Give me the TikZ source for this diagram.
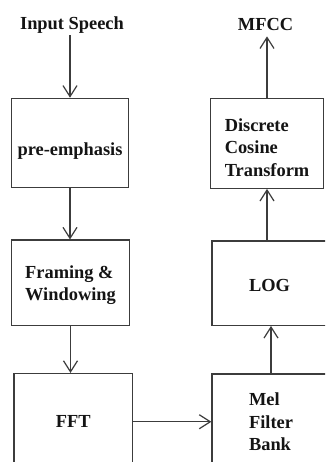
\documentclass[tikz,border=0pt]{standalone}
\usepackage{fontspec}
\setmainfont{Liberation Serif}
\usetikzlibrary{arrows.meta}
\definecolor{linec}{HTML}{3C3C3C}
\definecolor{textc}{HTML}{141414}
\newcommand{\lowerby}[2]{\raisebox{-#1}[\height][\depth]{#2}}
\tikzset{
  blk/.style={draw=linec, line width=1.2pt, rectangle, inner sep=0pt, text=textc,
    font=\fontsize{18.4}{22.5}\selectfont\bfseries, align=left},
  lbl/.style={inner sep=0pt, text=textc, font=\fontsize{18.4}{22.5}\selectfont\bfseries},
  arr/.style={draw=linec, line width=1.2pt, -{Straight Barb[length=11pt,width=14pt,line width=1.2pt]}}
}
\begin{document}
\begin{tikzpicture}[x=1pt,y=-1pt]
\useasboundingbox (0,0) rectangle (325,462);
\fill[white] (0,0) rectangle (325,462);
\clip (0,0) rectangle (325,462);
\node[lbl] (input) at (72,25.5) {Input Speech};
\node[lbl] (mfcc) at (265.5,25) {MFCC};
\node[blk, minimum width=117.6pt, minimum height=89.4pt] (pre) at (70,143) {\lowerby{8.5pt}{pre-emphasis}};
\node[blk, minimum width=118pt, minimum height=85.3pt] (frame) at (70.5,282.7) {\lowerby{2.5pt}{\begin{tabular}{@{}l@{}}Framing \&\\Windowing\end{tabular}}};
\node[blk, minimum width=118.5pt, minimum height=96.5pt] (fft) at (73.25,421.75) {FFT};
\node[blk, minimum width=113pt, minimum height=90pt] (dct) at (267,143.3) {\lowerby{6pt}{\begin{tabular}{@{}l@{}}Discrete\\Cosine\\Transform\end{tabular}}};
\node[blk, minimum width=115pt, minimum height=84.3pt] (log) at (269.5,283.2) {\lowerby{2pt}{LOG}};
\node[blk, minimum width=118pt, minimum height=96pt] (mel) at (271,422) {Mel\\Filter\\Bank};
\draw[arr] (input.south -| pre.north) ++(0,1) -- (pre.north);
\draw[arr] (pre.south) -- (pre.south |- frame.north);
\draw[arr] (frame.south) -- (frame.south |- fft.north);
\draw[arr] (fft.east) -- (fft.east -| mel.west);
\draw[arr] (mel.north) -- (mel.north |- log.south);
\draw[arr] (log.north -| dct.south) -- (dct.south);
\draw[arr] (dct.north) -- ([yshift=-5pt]dct.north |- mfcc.south);
\end{tikzpicture}
\end{document}
